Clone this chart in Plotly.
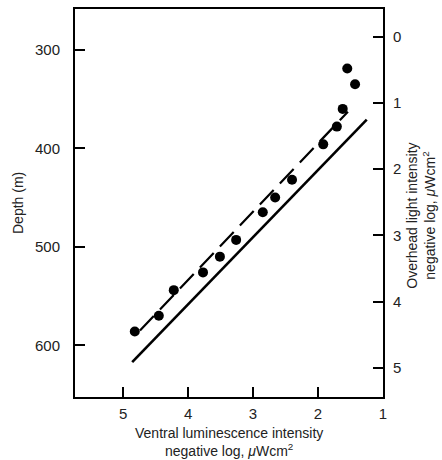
import plotly.graph_objects as go

# Data
ventral_pts = [1.55, 1.43, 1.62, 1.71, 1.92, 2.40, 2.66, 2.85, 3.26, 3.51, 3.77, 4.22, 4.45, 4.82]
depth_pts = [319, 335, 360, 378, 396, 432, 450, 465, 493, 510, 526, 544, 570, 586]

solid_x = [4.86, 1.25]
solid_depth = [617, 371]

dashed_x = [4.74, 1.54]
dashed_depth = [585, 363]

x_ticks = [5, 4, 3, 2, 1]
depth_ticks = [300, 400, 500, 600]
overhead_ticks = [0, 1, 2, 3, 4, 5]

FONT = "Liberation Sans, Arial, Helvetica, sans-serif"

fig = go.Figure()
fig.add_trace(go.Scatter(x=solid_x, y=solid_depth, mode="lines",
                         line=dict(color="black", width=2.6), showlegend=False, hoverinfo="skip"))
fig.add_trace(go.Scatter(x=dashed_x, y=dashed_depth, mode="lines",
                         line=dict(color="black", width=2.2, dash="20px,9px"), showlegend=False, hoverinfo="skip"))
fig.add_trace(go.Scatter(x=ventral_pts, y=depth_pts, mode="markers",
                         marker=dict(color="black", size=10), showlegend=False, hoverinfo="skip"))
fig.add_trace(go.Scatter(x=[3], y=[2], mode="markers", yaxis="y2",
                         marker=dict(opacity=0), showlegend=False, hoverinfo="skip"))

axis_common = dict(showgrid=False, zeroline=False, showline=True, linecolor="black", linewidth=2,
                   ticks="inside", ticklen=10, tickwidth=2, tickcolor="black",
                   tickfont=dict(family=FONT, size=15, color="#222"))

fig.update_layout(
    width=442, height=460,
    margin=dict(l=75, r=59, t=7, b=63),
    paper_bgcolor="white", plot_bgcolor="white",
    xaxis=dict(range=[5.74, 1.0], tickvals=x_ticks, mirror=True, ticklabelstandoff=2, **axis_common),
    yaxis=dict(range=[652.5, 258.6], tickvals=depth_ticks, ticklabelstandoff=10, **axis_common),
    yaxis2=dict(range=[5.44, -0.42], tickvals=overhead_ticks, overlaying="y", side="right",
                ticklabelstandoff=5, **axis_common),
    annotations=[
        dict(text="Ventral luminescence intensity<br>negative log, <i>μ</i>Wcm<sup>2</sup>",
             xref="paper", yref="paper", x=0.5, y=-0.068, xanchor="center", yanchor="top",
             showarrow=False, font=dict(family=FONT, size=14, color="#222")),
        dict(text="Depth (m)", xref="paper", yref="paper", x=-0.185, y=0.5, textangle=-90,
             xanchor="center", yanchor="middle", showarrow=False,
             font=dict(family=FONT, size=14, color="#222")),
        dict(text="Overhead light intensity<br>negative log, <i>μ</i>Wcm<sup>2</sup>",
             xref="paper", yref="paper", x=1.123, y=0.467, textangle=-90,
             xanchor="center", yanchor="middle", showarrow=False,
             font=dict(family=FONT, size=14, color="#222")),
    ],
)

fig.write_html("out.html", config={"displayModeBar": False},
               post_script="document.body.style.margin='0';document.body.style.overflow='hidden';")
